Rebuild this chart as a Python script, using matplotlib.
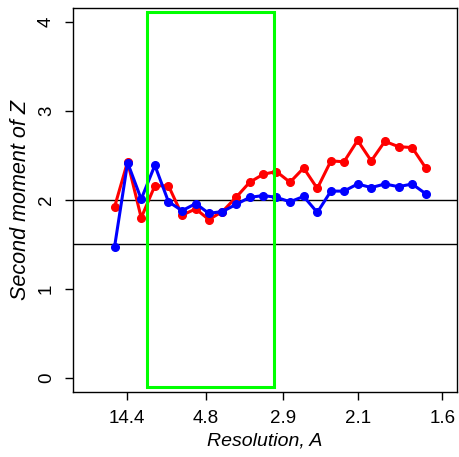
import numpy as np
import matplotlib.pyplot as plt
from matplotlib.patches import Rectangle

plt.rc('font', family=['Liberation Sans', 'DejaVu Sans'], size=13.5)

# bin centres in 1/d (1/A)
inv_d = [0.048, 0.071, 0.095, 0.119, 0.143, 0.167, 0.191, 0.214, 0.238, 0.262,
         0.286, 0.310, 0.333, 0.357, 0.381, 0.405, 0.429, 0.452, 0.476, 0.500,
         0.524, 0.548, 0.572, 0.596]
red_vals = [1.92, 2.43, 1.80, 2.16, 2.16, 1.83, 1.90, 1.78, 1.87, 2.03,
            2.20, 2.29, 2.32, 2.20, 2.36, 2.13, 2.44, 2.43, 2.67, 2.44,
            2.66, 2.60, 2.59, 2.36]
blue_vals = [1.47, 2.42, 2.01, 2.39, 1.98, 1.88, 1.96, 1.85, 1.87, 1.95,
             2.03, 2.05, 2.03, 1.98, 2.04, 1.86, 2.10, 2.10, 2.18, 2.14,
             2.18, 2.15, 2.18, 2.07]
tick_res = [14.4, 4.8, 2.9, 2.1, 1.6]
ref_lines = [2.0, 1.5]
# highlighted region (1/d range, y range)
box_x = (0.105, 0.329)
box_y = (-0.10, 4.11)

fig = plt.figure(figsize=(4.6, 4.57), dpi=100)
ax = fig.add_axes([0.1587, 0.1422, 0.8348, 0.8403])

for y in ref_lines:
    ax.axhline(y, color='black', lw=1.0, zorder=1)

ax.plot(inv_d, red_vals, color='#ff0000', lw=2.2, marker='o', ms=5.5, zorder=3)
ax.plot(inv_d, blue_vals, color='#0000ff', lw=2.2, marker='o', ms=5.5, zorder=4)

ax.add_patch(Rectangle((box_x[0], box_y[0]), box_x[1] - box_x[0], box_y[1] - box_y[0],
                       fill=False, edgecolor='#00ff00', lw=2.2, zorder=5))

ax.set_xlim(-0.0251, 0.651)
ax.set_ylim(-0.16, 4.16)
ax.set_xticks([1.0 / r for r in tick_res])
ax.set_xticklabels([str(r) for r in tick_res])
ax.set_yticks([0, 1, 2, 3, 4])
ax.set_yticklabels(['0', '1', '2', '3', '4'], rotation=90, va='center')
ax.tick_params(length=6, width=1, labelsize=13.5)
ax.tick_params(axis='x', pad=7)
ax.tick_params(axis='y', pad=7)
for s in ax.spines.values():
    s.set_linewidth(1.0)

ax.set_xlabel('Resolution, A', style='italic', fontsize=14, labelpad=4)
ax.set_ylabel('Second moment of Z', style='italic', fontsize=15.5, labelpad=5)

fig.savefig('out.png', dpi=100)
